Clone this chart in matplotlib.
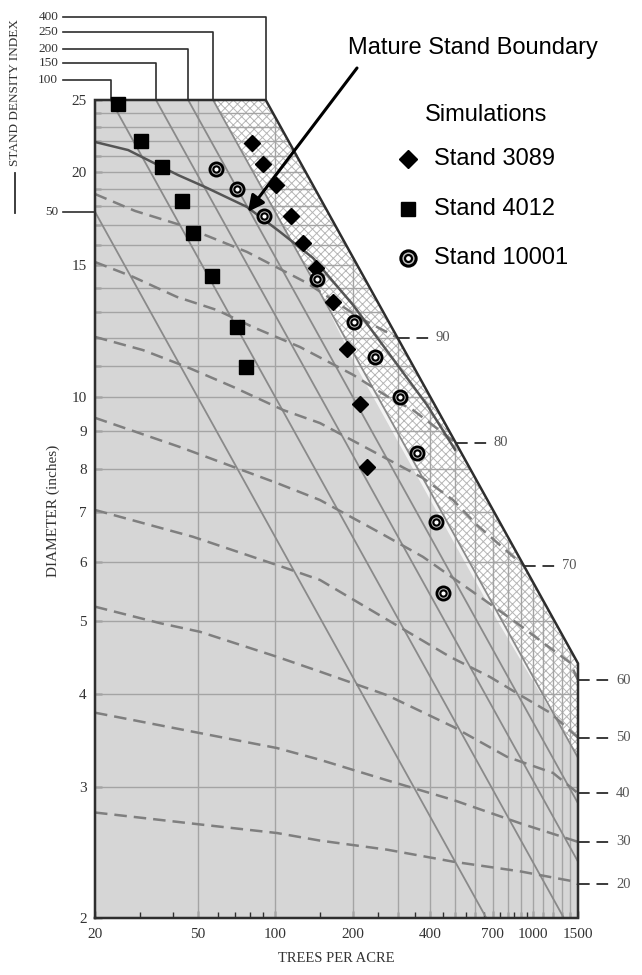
import matplotlib
matplotlib.use("Agg")
import matplotlib.pyplot as plt
from matplotlib.patches import Polygon
from matplotlib.lines import Line2D
from matplotlib.ticker import FixedLocator, FixedFormatter, NullFormatter

# ---------------- data ----------------
# simulated stand trajectories: trees per acre and diameter (inches)
stand3089_tpa = [81.2, 89.5, 100.9, 115.3, 128.7, 143.6, 168.6, 191.1, 213.7, 228.5]
stand3089_dia = [21.9, 20.5, 19.2, 17.5, 16.1, 14.9, 13.4, 11.6, 9.79, 8.06]
stand4012_tpa = [24.6, 30.2, 36.5, 43.4, 48.1, 56.8, 71.3, 77.1]
stand4012_dia = [24.7, 22.0, 20.3, 18.3, 16.6, 14.5, 12.4, 10.95]
stand10001_tpa = [58.8, 71.0, 90.8, 146.1, 203.4, 244.4, 304.6, 356.6, 421.6, 447.7]
stand10001_dia = [20.2, 19.0, 17.5, 14.4, 12.6, 11.3, 9.99, 8.41, 6.80, 5.45]

# stand density index lines (straight in log-log): end points
sdi_labels = [50, 100, 150, 200, 250, 400]
sdi_tpa_start = [20, 23, 34.5, 46, 57.5, 92]
sdi_dia_start = [17.7, 25, 25, 25, 25, 25]
sdi_tpa_end = [661, 1322, 1500, 1500, 1500, 1500]
sdi_dia_end = [2.0, 2.0, 2.38, 2.85, 3.28, 4.39]

# dashed isolines (labelled on the right)
iso_labels = [90, 80, 70, 60, 50, 40, 30, 20]
iso90_tpa = [20, 28.6, 42.8, 77.8, 133, 214, 300]
iso90_dia = [18.7, 17.75, 17.0, 15.64, 14.21, 12.75, 11.99]
iso80_tpa = [20, 28.1, 41.6, 59.5, 82.1, 125, 201, 279, 343, 504]
iso80_dia = [15.16, 14.48, 13.61, 13.07, 12.40, 11.66, 10.70, 9.96, 9.60, 8.67]
iso70_tpa = [20, 30.7, 45.5, 68.7, 107.4, 149.4, 255.6, 375, 491, 608, 925]
iso70_dia = [12.03, 11.55, 10.96, 10.31, 9.60, 9.22, 8.35, 7.78, 7.27, 6.73, 5.93]
iso60_tpa = [20, 42.8, 101.8, 149.4, 255.6, 375, 625, 870, 1097, 1397, 1500]
iso60_dia = [9.37, 8.56, 7.66, 7.27, 6.57, 6.10, 5.39, 4.97, 4.68, 4.40, 4.17]
iso50_tpa = [20, 48.0, 107.4, 149.4, 477.7, 683, 917, 1168, 1500]
iso50_dia = [7.05, 6.49, 5.91, 5.68, 4.48, 4.21, 3.96, 3.77, 3.49]
iso40_tpa = [20, 35.8, 51.1, 101.8, 149.4, 272, 491, 795, 1200, 1500]
iso40_dia = [5.23, 4.97, 4.84, 4.48, 4.28, 3.98, 3.61, 3.29, 3.13, 2.94]
iso30_tpa = [20, 51.1, 101.8, 149.4, 272, 491, 893, 1500]
iso30_dia = [3.77, 3.54, 3.38, 3.26, 3.06, 2.88, 2.68, 2.53]
iso20_tpa = [20, 51.1, 101.8, 149.4, 272, 491, 893, 1435, 1500]
iso20_dia = [2.77, 2.67, 2.60, 2.54, 2.47, 2.38, 2.31, 2.24, 2.22]

# mature stand boundary curve
mature_tpa = [20, 26.9, 33.3, 42.0, 53.5, 77.8, 104.5, 140.4, 200.7, 279.4, 389, 500]
mature_dia = [21.96, 21.42, 20.64, 19.83, 19.11, 17.97, 16.64, 15.35, 13.28, 11.38, 9.75, 8.49]

# thin light strip along the lower edge of the cross-hatched zone
strip_dia = [14.0, 11.0, 5.0, 3.5]
strip_in_tpa = [146, 214, 760, 1348]
strip_out_tpa = [146, 206, 732, 1348]

# axes ticks
x_ticks = [20, 50, 100, 200, 400, 700, 1000, 1500]
x_minor = [30, 40, 60, 70, 80, 90, 150, 250, 300, 350, 450, 500, 550, 600, 650,
           750, 800, 850, 900, 950, 1100, 1200, 1300, 1400]
y_ticks = [2, 3, 4, 5, 6, 7, 8, 9, 10, 15, 20, 25]
x_grid = [50, 100, 200, 300, 400, 500, 600, 700, 800, 900, 1000, 1100, 1200, 1300, 1400]
y_grid = list(range(3, 25))

# ---------------- drawing ----------------
W, H = 642, 975
plt.rcParams["hatch.linewidth"] = 0.7
fig = plt.figure(figsize=(W / 100, H / 100), dpi=100)
fig.patch.set_facecolor("white")
ax = fig.add_axes([95 / W, 1 - 918 / H, (578 - 95) / W, (918 - 100) / H])
ax.set_xscale("log")
ax.set_yscale("log")
ax.set_xlim(20, 1500)
ax.set_ylim(2, 25)
ax.set_facecolor("none")
for s in ax.spines.values():
    s.set_visible(False)

serif = "Liberation Serif"
sans = "Liberation Sans"
dark = "#2e2e2e"

xmin, xmax, ymin, ymax = 20, 1500, 2, 25
bx0, by1 = sdi_tpa_start[-1], sdi_dia_end[-1]
region = [(xmin, ymin), (xmin, ymax), (bx0, ymax), (xmax, by1), (xmax, ymin)]
gray = Polygon(region, closed=True, facecolor="#d6d6d6", edgecolor="none", zorder=0)
ax.add_patch(gray)

hx0, hy1 = sdi_tpa_start[-2], sdi_dia_end[-2]
hatch = Polygon([(hx0, ymax), (bx0, ymax), (xmax, by1), (xmax, hy1)], closed=True,
                facecolor="white", edgecolor="#b5b5b5", hatch="xxxx", lw=0, zorder=1)
ax.add_patch(hatch)

# pale strip on the gray side of the hatch edge
strip = list(zip(strip_out_tpa, strip_dia)) + list(zip(strip_in_tpa, strip_dia))[::-1]
ax.add_patch(Polygon(strip, closed=True, facecolor="white", edgecolor="none",
                     alpha=0.75, zorder=1.5))

clip = Polygon(region, closed=True, transform=ax.transData, facecolor="none", edgecolor="none")
ax.add_patch(clip)

for xg in x_grid:
    ln, = ax.plot([xg, xg], [ymin, ymax], color="#a4a4a4", lw=1.0, zorder=2)
    ln.set_clip_path(clip)
for yg in y_grid:
    ln, = ax.plot([xmin, xmax], [yg, yg], color="#a4a4a4", lw=1.0, zorder=2)
    ln.set_clip_path(clip)

# SDI lines
for i, lab in enumerate(sdi_labels[:-1]):
    ax.plot([sdi_tpa_start[i], sdi_tpa_end[i]], [sdi_dia_start[i], sdi_dia_end[i]],
            color="#8a8a8a", lw=1.3, zorder=3)

# dashed isolines
iso_tpa = [iso90_tpa, iso80_tpa, iso70_tpa, iso60_tpa, iso50_tpa, iso40_tpa, iso30_tpa, iso20_tpa]
iso_dia = [iso90_dia, iso80_dia, iso70_dia, iso60_dia, iso50_dia, iso40_dia, iso30_dia, iso20_dia]
lead_f = 10 ** (33 / 257.6)
text_f = 10 ** (38 / 257.6)
for lab, tx, dy in zip(iso_labels, iso_tpa, iso_dia):
    ax.plot(tx, dy, color="#7f7f7f", lw=1.8, dashes=(5.0, 2.8), zorder=3)
    x_end, y_end = tx[-1], dy[-1]
    ax.plot([x_end, x_end * lead_f], [y_end, y_end], color="#3a3a3a", lw=1.4,
            linestyle=(0, (6, 3.5)), clip_on=False, zorder=3)
    ax.text(x_end * text_f, y_end, str(lab), ha="left", va="center", fontsize=10.5,
            family=serif, color="#555555", clip_on=False)

# mature stand boundary
ax.plot(mature_tpa, mature_dia, color="#555555", lw=1.8, zorder=4)

# outline (max SDI boundary)
ox = [xmin, xmin, bx0, xmax, xmax, xmin]
oy = [ymin, ymax, ymax, by1, ymin, ymin]
ax.plot(ox, oy, color=dark, lw=1.8, zorder=5, clip_on=False, solid_joinstyle="miter")

# SDI labels with leaders at top-left
lead_y = [26.6, 28.0, 29.3, 30.8, 32.3]
label_x0 = 15.0
for i, lab in enumerate(sdi_labels):
    if i == 0:
        ax.plot([label_x0, sdi_tpa_start[0]], [sdi_dia_start[0]] * 2, color=dark, lw=1.2,
                clip_on=False)
        ty = sdi_dia_start[0]
    else:
        ty = lead_y[i - 1]
        ax.plot([label_x0, sdi_tpa_start[i], sdi_tpa_start[i]], [ty, ty, ymax], color=dark,
                lw=1.2, clip_on=False)
    ax.text(14.4, ty, str(lab), ha="right", va="center", fontsize=9.5, family=serif,
            color="#333333", clip_on=False)

# simulated stands
ax.plot(stand3089_tpa, stand3089_dia, ls="none", marker="D", ms=8.0, mfc="black",
        mec="black", zorder=7, clip_on=False)
ax.plot(stand4012_tpa, stand4012_dia, ls="none", marker="s", ms=10, mfc="black",
        mec="black", zorder=7, clip_on=False)
ax.plot(stand10001_tpa, stand10001_dia, ls="none", marker="o", ms=9.5, mfc="#bdbdbd",
        mec="black", mew=2.0, zorder=7, clip_on=False)
ax.plot(stand10001_tpa, stand10001_dia, ls="none", marker="o", ms=4.5, mfc="white",
        mec="black", mew=1.5, zorder=8, clip_on=False)

# ticks
ax.xaxis.set_major_locator(FixedLocator(x_ticks))
ax.xaxis.set_major_formatter(FixedFormatter([str(v) for v in x_ticks]))
ax.xaxis.set_minor_locator(FixedLocator(x_minor))
ax.xaxis.set_minor_formatter(NullFormatter())
ax.yaxis.set_major_locator(FixedLocator(y_ticks))
ax.yaxis.set_major_formatter(FixedFormatter([str(v) for v in y_ticks]))
ax.yaxis.set_minor_locator(FixedLocator([v for v in y_grid if v not in y_ticks]))
ax.yaxis.set_minor_formatter(NullFormatter())
ax.tick_params(which="both", direction="in", color=dark, width=1.0)
ax.tick_params(which="major", length=5)
ax.tick_params(which="minor", length=4)
ax.tick_params(axis="x", pad=7, labelsize=11, labelcolor="#333333")
ax.tick_params(axis="y", pad=6, labelsize=11, labelcolor="#333333")
for t in ax.get_xticklabels() + ax.get_yticklabels():
    t.set_family(serif)

fig.text(336 / W, 1 - 958 / H, "TREES PER ACRE", ha="center", va="center", fontsize=10.5,
         family=serif, color="#333333")
fig.text(53 / W, 1 - 511 / H, "DIAMETER (inches)", ha="center", va="center", rotation=90,
         fontsize=11, family=serif, color="#333333")
fig.text(15 / W, 1 - 92 / H, "STAND DENSITY INDEX", ha="center", va="center", rotation=90,
         fontsize=9.5, family=serif, color="#333333")
fig.add_artist(Line2D([15 / W, 15 / W], [1 - 173 / H, 1 - 213 / H], color=dark, lw=1.3))

# annotation
fig.text(348 / W, 1 - 48 / H, "Mature Stand Boundary", ha="left", va="center", fontsize=17,
         family=sans, color="black")
ax.annotate("", xy=(78.5, 17.7), xytext=(357 / W, 1 - 68 / H), textcoords="figure fraction",
            arrowprops=dict(arrowstyle="-|>", lw=2.2, color="black", mutation_scale=24,
                            shrinkA=0, shrinkB=0), zorder=9, annotation_clip=False)

# legend
fig.text(486 / W, 1 - 115 / H, "Simulations", ha="center", va="center", fontsize=17,
         family=sans, color="black")
leg = [("D", 9.0, "Stand 3089", 159), ("s", 9.5, "Stand 4012", 209), ("o", 11, "Stand 10001", 258)]
for mk, ms, lab, yy in leg:
    if mk == "o":
        fig.add_artist(Line2D([408 / W], [1 - yy / H], marker="o", ms=ms, mfc="#bdbdbd",
                              mec="black", mew=2.2, ls="none"))
        fig.add_artist(Line2D([408 / W], [1 - yy / H], marker="o", ms=5, mfc="white",
                              mec="black", mew=1.6, ls="none"))
    else:
        fig.add_artist(Line2D([408 / W], [1 - yy / H], marker=mk, ms=ms, mfc="black",
                              mec="black", ls="none"))
    fig.text(434 / W, 1 - yy / H, lab, ha="left", va="center", fontsize=17, family=sans,
             color="black")

fig.savefig("out.png", dpi=100, facecolor="white")
